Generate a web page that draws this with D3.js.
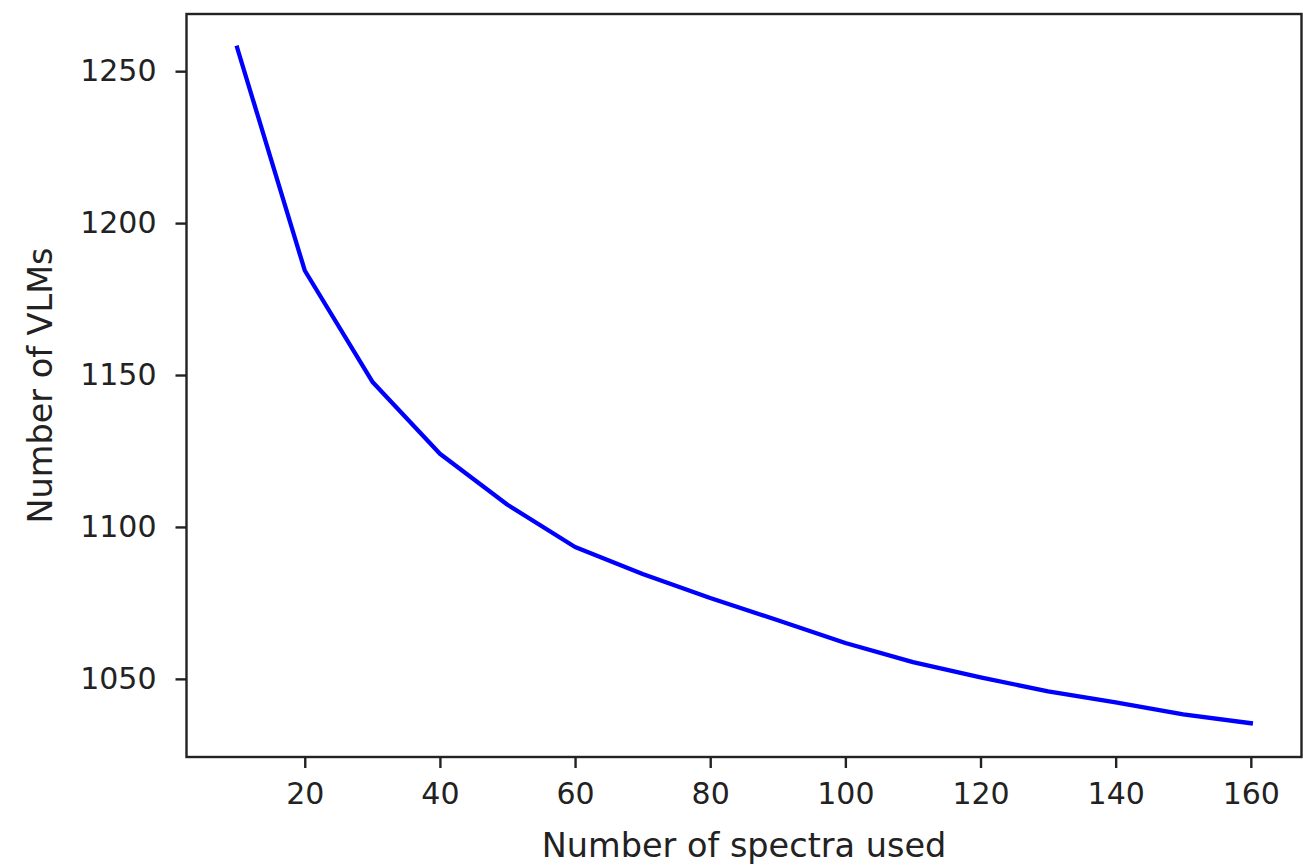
<!DOCTYPE html>
<html lang="en">
<head>
    <meta charset="UTF-8">
    <title>Number of VLMs</title>
    <script src="https://cdnjs.cloudflare.com/ajax/libs/d3/7.9.0/d3.min.js"></script>
    <style>
        body { margin: 0; background: #fff; }
        svg { display: block; }
        .tick text { font-family: "DejaVu Sans", sans-serif; }
    </style>
</head>
<body>
<svg id="chart" width="1303" height="865"></svg>
<script>
    // data
    const spectraUsed = [10, 20, 30, 40, 50, 60, 70, 80, 90, 100, 110, 120, 130, 140, 150, 160];
    const vlmCounts = [1257.7, 1184.4, 1147.8, 1124.1, 1107.3, 1093.4, 1084.5, 1076.6,
                       1069.3, 1061.8, 1055.5, 1050.5, 1045.9, 1042.3, 1038.3, 1035.4];
    const xTicks = [20, 40, 60, 80, 100, 120, 140, 160];
    const yTicks = [1050, 1100, 1150, 1200, 1250];

    const width = 1303, height = 865;
    const margin = { top: 14, right: 1.5, bottom: 108, left: 186.5 };

    const svg = d3.select("#chart");

    // matplotlib style 5% padding around the data
    const xPad = (d3.max(spectraUsed) - d3.min(spectraUsed)) * 0.05;
    const yPad = (d3.max(vlmCounts) - d3.min(vlmCounts)) * 0.05;

    const x = d3.scaleLinear()
        .domain([d3.min(spectraUsed) - xPad, d3.max(spectraUsed) + xPad])
        .range([margin.left, width - margin.right]);

    const y = d3.scaleLinear()
        .domain([d3.min(vlmCounts) - yPad, d3.max(vlmCounts) + yPad])
        .range([height - margin.bottom, margin.top]);

    const xAxis = svg.append("g")
        .attr("transform", `translate(0,${height - margin.bottom})`)
        .call(d3.axisBottom(x).tickValues(xTicks).tickFormat(d3.format("d")).tickSize(11).tickPadding(15));

    const yAxis = svg.append("g")
        .attr("transform", `translate(${margin.left},0)`)
        .call(d3.axisLeft(y).tickValues(yTicks).tickFormat(d3.format("d")).tickSize(11).tickPadding(19));

    [xAxis, yAxis].forEach(function (a) {
        a.select(".domain").remove();
        a.selectAll(".tick line").attr("stroke", "#222").attr("stroke-width", 2.4);
        a.selectAll(".tick text").attr("font-size", 30).attr("fill", "#222");
    });

    // axes frame
    svg.append("rect")
        .attr("x", margin.left)
        .attr("y", margin.top)
        .attr("width", width - margin.right - margin.left)
        .attr("height", height - margin.bottom - margin.top)
        .attr("fill", "none")
        .attr("stroke", "#222")
        .attr("stroke-width", 2.4);

    const line = d3.line()
        .x(function (d, i) { return x(spectraUsed[i]); })
        .y(function (d) { return y(d); });

    svg.append("path")
        .datum(vlmCounts)
        .attr("d", line)
        .attr("fill", "none")
        .attr("stroke", "#0000ff")
        .attr("stroke-width", 4.3)
        .attr("stroke-linejoin", "round")
        .attr("stroke-linecap", "square");

    svg.append("text")
        .attr("x", (margin.left + width - margin.right) / 2)
        .attr("y", 857)
        .attr("text-anchor", "middle")
        .attr("font-family", "DejaVu Sans, sans-serif")
        .attr("font-size", 33.5)
        .attr("fill", "#222")
        .text("Number of spectra used");

    svg.append("text")
        .attr("transform", `translate(52,${(margin.top + height - margin.bottom) / 2}) rotate(-90)`)
        .attr("text-anchor", "middle")
        .attr("font-family", "DejaVu Sans, sans-serif")
        .attr("font-size", 33.5)
        .attr("fill", "#222")
        .text("Number of VLMs");
</script>
</body>
</html>
